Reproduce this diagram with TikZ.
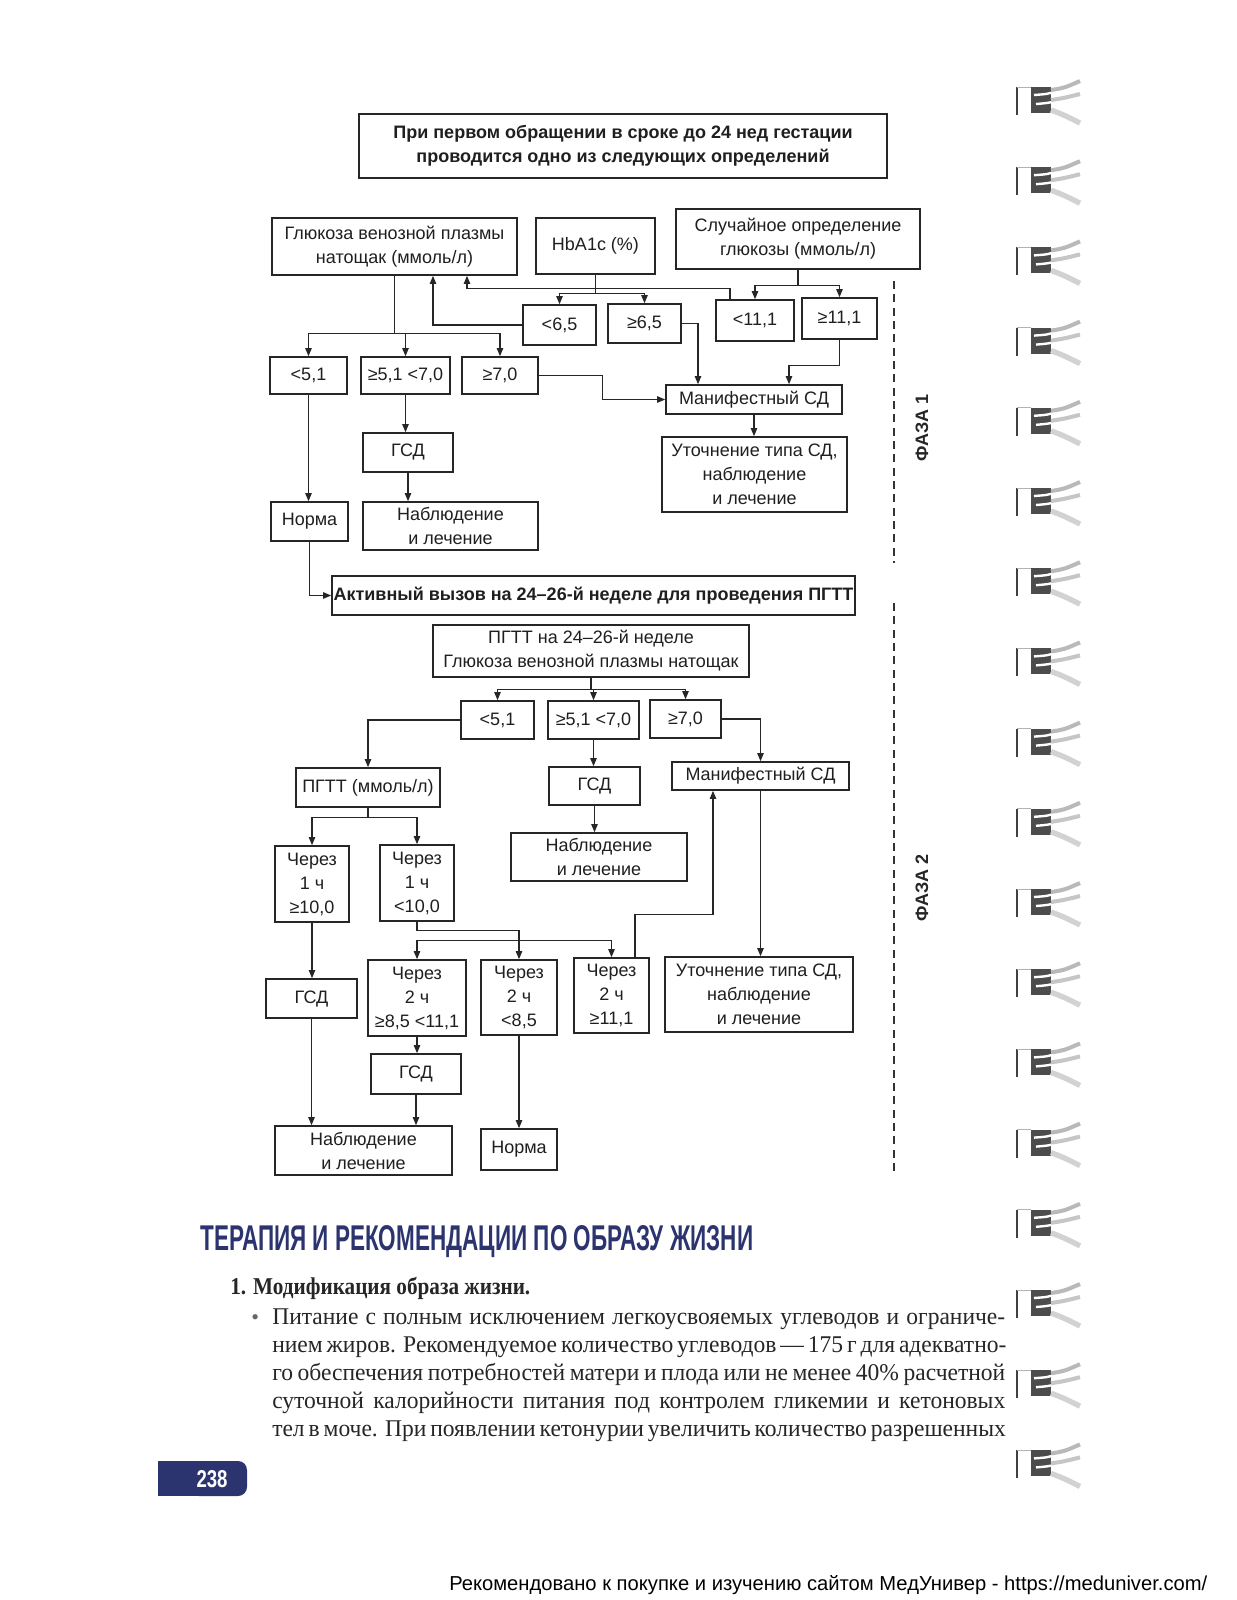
\documentclass[tikz,border=0pt]{standalone}
\usepackage{fontspec}
\usepackage{graphicx}
\setmainfont{Liberation Sans}
\newfontfamily\serifbody{Liberation Serif}
\newfontfamily\serifcond[FakeStretch=0.98]{Liberation Serif}
\newfontfamily\serifbold[FakeStretch=0.88]{Liberation Serif}
\newfontfamily\headfont[FakeStretch=0.7]{Liberation Sans}
\usetikzlibrary{arrows.meta,calc}
\newdimen\pxu \pxu=0.75pt
\definecolor{navy}{RGB}{44,52,112}
\tikzset{
  bx/.style args={#1/#2/#3/#4}{draw=black!85, line width=1.25pt, inner sep=0pt, align=center,
     font=\fontsize{13.5}{18}\selectfont, text=black!88,
     minimum width={(#3-#1)*0.75pt}, minimum height={(#4-#2)*0.75pt},
     at={({(#1+#3)/2},{(#2+#4)/2})}},
  arr/.style={draw=black!85, line width=0.9pt, -{Triangle[length=6pt,width=4.8pt]}},
  bodyline/.style={anchor=base west, inner sep=0pt, text=black!85, font=\serifcond\fontsize{18}{21}\selectfont}
}
\begin{document}
\begin{tikzpicture}[x=0.75pt,y=-0.75pt]
\fill[white] (0,0) rectangle (1237,1600);
\useasboundingbox (0,0) rectangle (1237,1600);

% ---------- Phase 1 ----------
\node[bx=359/114/887/178, font=\bfseries\fontsize{13.5}{18}\selectfont] (top) {При первом обращении в сроке до 24 нед гестации\\проводится одно из следующих определений};
\node[bx=272/218/517/275] (glc) {Глюкоза венозной плазмы\\натощак (ммоль/л)};
\node[bx=536/218/655/274] (hba) {HbA1c (\%)};
\node[bx=676/209/920/269] (rnd) {Случайное определение\\глюкозы (ммоль/л)};
\node[bx=523/305/596/345] (lt65) {<6,5};
\node[bx=608/304/681/343] (ge65) {≥6,5};
\node[bx=716/300/794/341] (lt111) {<11,1};
\node[bx=802/298/877/339] (ge111) {≥11,1};
\node[bx=270/357/347/394] (a1) {<5,1};
\node[bx=361/357/450/394] (a2) {≥5,1 <7,0};
\node[bx=462/357/538/394] (a3) {≥7,0};
\node[bx=666/385/842/414] (man1) {Манифестный СД};
\node[bx=662/437/847/512] (typ1) {Уточнение типа СД,\\наблюдение\\и лечение};
\node[bx=363/433/453/472] (gsd1) {ГСД};
\node[bx=271/502/348/541] (norm1) {Норма};
\node[bx=363/502/538/550] (obs1) {Наблюдение\\и лечение};
\node[bx=332/576/855/615, font=\bfseries\fontsize{13.5}{18}\selectfont] (act) {Активный вызов на 24–26-й неделе для проведения ПГТТ};

\draw[arr] (glc.south) -- ++(0,58) -| (a1.north);
\draw[arr] (glc.south) -- ++(0,58) -| (a2.north);
\draw[arr] (glc.south) -- ++(0,58) -| (a3.north);
\draw[arr] (hba.south) -- ++(0,19) -| (lt65.north);
\draw[arr] (hba.south) -- ++(0,19) -| (ge65.north);
\draw[arr] (rnd.south) -- ++(0,16) -| (lt111.north);
\draw[arr] (rnd.south) -- ++(0,16) -| (ge111.north);
\draw[arr] ($(lt111.north)+(-25,0)$) -- ++(0,-11) -| ($(glc.south)+(72.5,0)$);
\draw[arr] (lt65.west) -| ($(glc.south)+(38.5,0)$);
\draw[arr] (ge65.east) -| ($(man1.north)+(-56,0)$);
\draw[arr] (ge111.south) -- ++(0,26) -| ($(man1.north)+(35,0)$);
\draw[arr] (a3.east) -- ++(64,0) |- (man1.west);
\draw[arr] (man1.south) -- (man1.south |- typ1.north);
\draw[arr] (a1.south) -- (a1.south |- norm1.north);
\draw[arr] (a2.south) -- (a2.south |- gsd1.north);
\draw[arr] (gsd1.south) -- (gsd1.south |- obs1.north);
\draw[arr] (norm1.south) |- (act.west);

% ---------- Phase 2 ----------
\node[bx=433/625/749/677] (pgtt) {ПГТТ на 24–26-й неделе\\Глюкоза венозной плазмы натощак};
\node[bx=461/701/534/739] (b1) {<5,1};
\node[bx=548/701/639/739] (b2) {≥5,1 <7,0};
\node[bx=650/700/721/738] (b3) {≥7,0};
\node[bx=296/768/440/807] (pmm) {ПГТТ (ммоль/л)};
\node[bx=549/767/640/805] (gsd2) {ГСД};
\node[bx=511/833/687/881] (obs2) {Наблюдение\\и лечение};
\node[bx=672/762/849/790] (man2) {Манифестный СД};
\node[bx=665/957/853/1032] (typ2) {Уточнение типа СД,\\наблюдение\\и лечение};
\node[bx=275/846/349/922] (h1a) {Через\\1 ч\\≥10,0};
\node[bx=380/845/454/921] (h1b) {Через\\1 ч\\<10,0};
\node[bx=266/979/357/1018] (gsd3) {ГСД};
\node[bx=368/960/466/1036] (h2a) {Через\\2 ч\\≥8,5 <11,1};
\node[bx=481/960/557/1035] (h2b) {Через\\2 ч\\<8,5};
\node[bx=574/958/649/1033] (h2c) {Через\\2 ч\\≥11,1};
\node[bx=371/1054/461/1094] (gsd4) {ГСД};
\node[bx=275/1126/452/1175] (obs3) {Наблюдение\\и лечение};
\node[bx=481/1129/557/1170] (norm2) {Норма};

\draw[arr] (pgtt.south) -- ++(0,12) -| (b1.north);
\draw[arr] (pgtt.south) -- ++(0,12) -| (b2.north);
\draw[arr] (pgtt.south) -- ++(0,12) -| (b3.north);
\draw[arr] (b1.west) -| (pmm.north);
\draw[arr] (b2.south) -- (b2.south |- gsd2.north);
\draw[arr] (gsd2.south) -- (gsd2.south |- obs2.north);
\draw[arr] (b3.east) -| (man2.north);
\draw[arr] (man2.south) -- (man2.south |- typ2.north);
\draw[arr] ($(h2c.north)+(23.5,0)$) -- ++(0,-43) -| ($(man2.south)+(-47.5,0)$);
\draw[arr] (pmm.south) -- ++(0,10) -| (h1a.north);
\draw[arr] (pmm.south) -- ++(0,10) -| (h1b.north);
\draw[arr] (h1a.south) -- (h1a.south |- gsd3.north);
\draw[arr] (gsd3.south) -- (gsd3.south |- obs3.north);
\draw[arr] (h1b.south) -- ++(0,9) -| (h2b.north);
\draw[arr] ($(h2b.north)+(0,-19)$) -| (h2a.north);
\draw[arr] ($(h2b.north)+(0,-19)$) -| (h2c.north);
\draw[arr] (h2a.south) -- (h2a.south |- gsd4.north);
\draw[arr] (gsd4.south) -- (gsd4.south |- obs3.north);
\draw[arr] (h2b.south) -- (h2b.south |- norm2.north);

% phase separators
\draw[black!80, line width=1.8pt, dash pattern=on 6pt off 4pt] (894,281) -- (894,563);
\draw[black!80, line width=1.8pt, dash pattern=on 6pt off 4pt] (894,603) -- (894,1174);
\node[rotate=90, font=\bfseries\fontsize{13.5}{16}\selectfont, text=black!85] (ph1) at (922,428) {ФАЗА 1};
\node[rotate=90, font=\bfseries\fontsize{13.5}{16}\selectfont, text=black!85] (ph2) at (922,888) {ФАЗА 2};

% ---------- text below ----------
\node[anchor=base west, inner sep=0pt, text=navy] (head) at (200,1250) {\resizebox{553\pxu}{25\pxu}{\headfont\bfseries ТЕРАПИЯ И РЕКОМЕНДАЦИИ ПО ОБРАЗУ ЖИЗНИ}};
\node[anchor=base west, inner sep=0pt, text=black!85] (mod) at (230,1294) {\resizebox{300\pxu}{!}{\serifbold\bfseries\fontsize{18}{21}\selectfont 1. Модификация образа жизни.}};
\node[anchor=base west, inner sep=0pt, text=black!60, font=\serifbody\fontsize{16.5}{21}\selectfont] (bul) at (251,1324) {•};
\node[bodyline] (l1) at (272,1324) {\makebox[733\pxu][s]{Питание с полным исключением легкоусвояемых углеводов и ограниче-}};
\node[bodyline] (l2) at (272,1352) {\makebox[733\pxu][s]{нием жиров. Рекомендуемое количество углеводов — 175 г для адекватно-}};
\node[bodyline] (l3) at (272,1380) {\makebox[733\pxu][s]{го обеспечения потребностей матери и плода или не менее 40\% расчетной}};
\node[bodyline] (l4) at (272,1408) {\makebox[733\pxu][s]{суточной калорийности питания под контролем гликемии и кетоновых}};
\node[bodyline] (l5) at (272,1436) {\makebox[733\pxu][s]{тел в моче. При появлении кетонурии увеличить количество разрешенных}};

% page number
\fill[navy] (158,1461) rectangle (220,1496);
\fill[navy, rounded corners=6.75pt] (190,1461) rectangle (247,1496);
\node[text=white, inner sep=0pt] (pg) at (212,1479) {\resizebox{31\pxu}{17\pxu}{\headfont\bfseries 238}};

% footer
\node[anchor=base west, inner sep=0pt, text=black] (foot) at (449,1590) {\resizebox{758\pxu}{!}{\fontsize{14.2}{17}\selectfont Рекомендовано к покупке и изучению сайтом МедУнивер - https://meduniver.com/}};

% spiral binding
\foreach \k in {0,...,17}{
  \pgfmathsetmacro\yy{101+80.2*\k}
  \draw[black!75, line width=1.5pt] (1017,\yy-14) -- (1017,\yy+14);
  \draw[gray!60, line width=0.6pt] (1017,\yy-14) -- (1031,\yy-14);
  \fill[black!70] (1031,\yy-14) rectangle (1051,\yy+12);
  \draw[white, line width=1.8pt] (1034,\yy-6) .. controls (1048,\yy-7) .. (1056,\yy-10);
  \draw[white, line width=1.8pt] (1036,\yy+3) .. controls (1048,\yy+2) .. (1056,\yy);
  \draw[gray!55, line width=3pt] (1051,\yy-11) .. controls (1064,\yy-13) .. (1080,\yy-20);
  \draw[gray!45, line width=3pt] (1051,\yy-1) .. controls (1064,\yy-3) .. (1080,\yy-7);
  \draw[gray!35, line width=4pt] (1051,\yy+9) .. controls (1064,\yy+14) .. (1080,\yy+22);
}
\end{tikzpicture}
\end{document}
